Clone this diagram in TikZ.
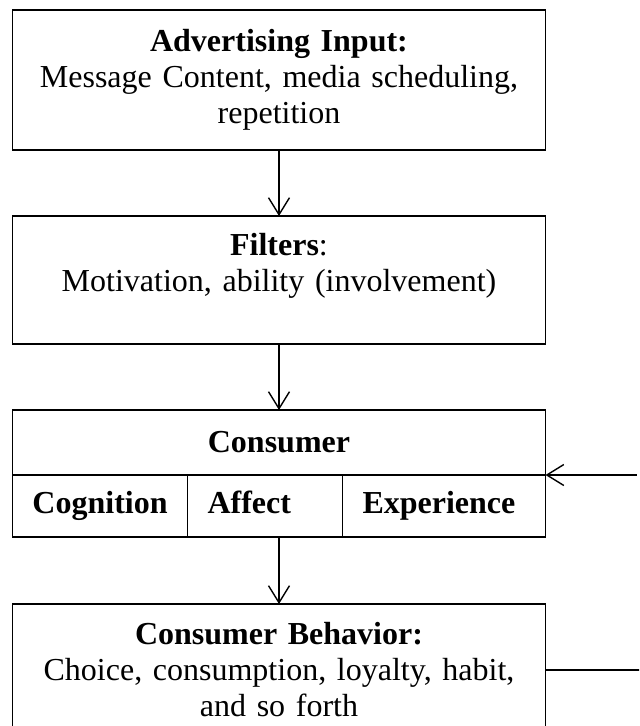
\documentclass[tikz,border=0pt]{standalone}
\usepackage{fontspec}
\setmainfont{Liberation Serif}
\usetikzlibrary{positioning, arrows.meta}

\begin{document}
\begin{tikzpicture}[node distance=33pt,
    every node/.style={outer sep=0pt, line width=0.7pt},
    box/.style={rectangle, draw=black, text width=246.5pt, inner xsep=10pt, align=center, font=\fontsize{16}{18}\selectfont},
    cell/.style={rectangle, draw=black, inner xsep=10pt, minimum height=31pt, text height=11pt, text depth=3.5pt, align=left, font=\fontsize{16}{18}\selectfont\bfseries},
    arr/.style={line width=0.7pt, -{Straight Barb[length=8.5pt, width=10.5pt]}}]

    \useasboundingbox (0,0) rectangle (319.5pt,-363pt);
    \clip (0,0) rectangle (319.5pt,-363pt);

    % Nodes
    \node (adv) [box, minimum height=70pt, anchor=north] at (139.5pt,-5pt) {\textbf{Advertising Input:} \\
      Message Content, media scheduling, \\
      repetition};

    \node (filt) [box, minimum height=64pt, below=of adv] {\textbf{Filters}: \\
      Motivation, ability (involvement) \\ \mbox{}};

    \node (cons) [box, minimum height=32.5pt, below=of filt] {\textbf{Consumer}};
    \node (cog) [cell, text width=67.5pt, below right=0pt and 0pt of cons.south west] {Cognition};
    \node (aff) [cell, text width=57.5pt, right=0pt of cog] {Affect};
    \node (exp) [cell, text width=81.5pt, right=0pt of aff] {Experience};

    \node (beh) [box, minimum height=66pt, below=33.5pt of cons.south |- cog.south, anchor=north] {\textbf{Consumer Behavior:} \\
      Choice, consumption, loyalty, habit, \\
      and so forth};

    \coordinate [right=45.5pt of cons.south east] (fbin);
    \coordinate [right=47pt of beh.east] (fbout);

    % Arrows
    \draw[arr] (adv) -- (filt);
    \draw[arr] (filt) -- (cons);
    \draw[arr] (cog.south -| cons.south) -- (beh);
    \draw[arr] (fbin) -- (cons.south east);
    \draw[line width=0.7pt] (beh.east) -- (fbout);

\end{tikzpicture}
\end{document}
